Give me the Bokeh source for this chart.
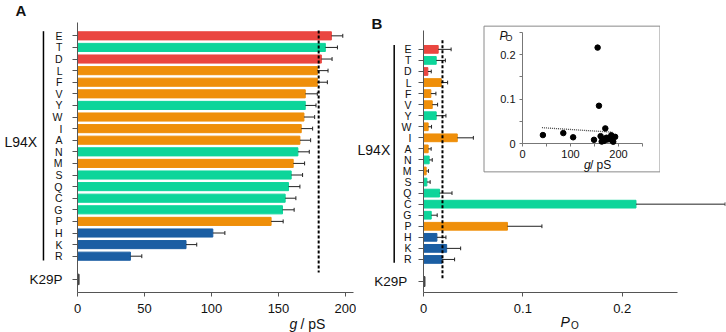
from bokeh.plotting import figure
from bokeh.models import Range1d, FixedTicker, ColumnDataSource
from bokeh.core.properties import value
from bokeh.layouts import row
from bokeh.embed import file_html
from bokeh.resources import INLINE

# ---------------- data ----------------
mutants = ["E", "T", "D", "L", "F", "V", "Y", "W", "I", "A",
           "N", "M", "S", "Q", "C", "G", "P", "H", "K", "R"]
residue_class = ["acidic", "polar", "acidic", "hydrophobic", "hydrophobic",
                 "hydrophobic", "polar", "hydrophobic", "hydrophobic", "hydrophobic",
                 "polar", "hydrophobic", "polar", "polar", "polar",
                 "polar", "hydrophobic", "basic", "basic", "basic"]
g_mean = [189.5, 185, 182, 179, 179, 170, 170, 169, 167, 166,
          164.5, 161, 159.5, 157.5, 155, 153, 144.5, 101, 81, 39.5]
g_err = [8.5, 9, 8, 8, 7.5, 9, 8, 8, 8.5, 8,
         8.5, 8.5, 8.5, 8.5, 8, 8.7, 9, 9, 8, 8.5]
po_mean = [0.0148, 0.0128, 0.0044, 0.0179, 0.0074, 0.0088, 0.0128, 0.0047, 0.034, 0.0047,
           0.0057, 0.0027, 0.0034, 0.0162, 0.2139, 0.0078, 0.0845, 0.0135, 0.0233, 0.0186]
po_err = [0.013, 0.0092, 0.0034, 0.0064, 0.0051, 0.0054, 0.0098, 0.0034, 0.0162, 0.003,
          0.0031, 0.0023, 0.0033, 0.0125, 0.0898, 0.006, 0.0347, 0.0091, 0.0141, 0.0127]
wt_label = "K29P"
wt_g = 1.2
wt_po = 0.0015
g_ref = 180
po_ref = 0.0191

inset_g = [42.5, 85, 105.5, 149, 156.5, 159.3, 172.5, 162.7, 165, 167,
           170, 173, 175, 177, 185, 193, 186.5, 189, 180, 168]
inset_po = [0.019, 0.0235, 0.014, 0.0083, 0.216, 0.085, 0.034, 0.0166, 0.0044, 0.0057,
            0.006, 0.011, 0.013, 0.009, 0.0185, 0.015, 0.007, 0.004, 0.012, 0.009]
fit_g = [40.5, 187]
fit_po = [0.0357, 0.0255]

g_ticks = [0, 50, 100, 150, 200]
po_ticks = [0, 0.1, 0.2]
po_tick_labels = ["0", "0.1", "0.2"]
inset_g_ticks = [0, 50, 100, 150, 200, 250]
inset_g_labels = ["0", "", "100", "", "200", ""]
inset_po_ticks = [0, 0.05, 0.1, 0.15, 0.2, 0.25]
inset_po_labels = ["0", "", "0.1", "", "0.2", ""]

# ---------------- styles ----------------
palette = {"acidic": "#EA4640", "polar": "#0DD59A",
           "hydrophobic": "#EF8F0A", "basic": "#1B5EA3"}
FONT = "Liberation Sans"
AX = "#555555"
TXT = "#111111"

pos = list(range(len(mutants)))
wt_pos = len(mutants) + 1
cap = 0.17
src = ColumnDataSource(dict(
    y=pos, g=g_mean, g_hi=[m + e for m, e in zip(g_mean, g_err)],
    po=po_mean, po_hi=[m + e for m, e in zip(po_mean, po_err)],
    color=[palette[c] for c in residue_class],
    c0=[p - cap for p in pos], c1=[p + cap for p in pos]))


def style(p, fs="13px"):
    p.outline_line_color = None
    p.xgrid.grid_line_color = None
    p.ygrid.grid_line_color = None
    p.background_fill_color = "white"
    p.border_fill_color = "white"
    for ax in (p.xaxis, p.yaxis):
        ax.axis_line_color = AX
        ax.major_tick_line_color = AX
        ax.minor_tick_line_color = None
        ax.major_tick_in = 0
        ax.major_label_text_font = FONT
        ax.major_label_text_color = TXT
        ax.major_label_text_font_size = fs


def lab(p, x, y, text, size, align="left", style_="normal"):
    p.text(x=[x], y=[y], text=[text], text_font=value(FONT), text_font_size=size,
           text_align=align, text_baseline="middle", text_color=TXT,
           text_font_style=style_, level="overlay")


# ---------------- panel A ----------------
pA = figure(width=356, height=332, x_range=Range1d(0, 206), y_range=Range1d(22.13, -1.15),
            output_backend="svg", toolbar_location=None,
            min_border_left=77, min_border_right=3, min_border_top=22, min_border_bottom=40)
style(pA)
pA.hbar(y="y", left=0, right="g", height=0.7, color="color", source=src)
pA.segment(x0="g", y0="y", x1="g_hi", y1="y", line_color="#222222", line_width=1, source=src)
pA.segment(x0="g_hi", y0="c0", x1="g_hi", y1="c1", line_color="#222222", line_width=1, source=src)
pA.hbar(y=[wt_pos], left=0, right=[wt_g], height=0.9, color="#444444")
pA.line([g_ref, g_ref], [-0.46, 20.4], line_color="black", line_width=2, line_dash="3 2")
pA.xaxis.ticker = FixedTicker(ticks=g_ticks)
pA.xaxis.major_tick_out = 4
pA.xaxis.major_label_standoff = 7
pA.yaxis.ticker = FixedTicker(ticks=pos + [wt_pos])
pA.yaxis.major_label_overrides = {**{i: m for i, m in enumerate(mutants)}, wt_pos: ""}
pA.yaxis.major_tick_out = 5
pA.yaxis.major_label_standoff = 10
pA.yaxis.major_label_text_font_size = "10.5px"
pA.line([-25.4, -25.4], [-0.4, 19.37], line_color="black", line_width=1.5, level="overlay")
lab(pA, -46.3, -2.22, "A", "15px", style_="bold")
lab(pA, -54.5, 9.15, "L94X", "14px")
lab(pA, -11.2, wt_pos, wt_label, "13.5px", align="right")
lab(pA, 158.2, 24.83, "g", "14px", style_="italic")
lab(pA, 166.4, 24.83, "/ pS", "14px")

# ---------------- panel B ----------------
pB = figure(width=370, height=332, x_range=Range1d(0, 0.304), y_range=Range1d(21.99, -2.43),
            output_backend="svg", toolbar_location=None,
            min_border_left=67, min_border_right=1, min_border_top=8, min_border_bottom=40)
style(pB)
pB.hbar(y="y", left=0, right="po", height=0.7, color="color", source=src)
pB.segment(x0="po", y0="y", x1="po_hi", y1="y", line_color="#222222", line_width=1, source=src)
pB.segment(x0="po_hi", y0="c0", x1="po_hi", y1="c1", line_color="#222222", line_width=1, source=src)
pB.hbar(y=[wt_pos], left=0, right=[wt_po], height=0.9, color="#444444")
pB.line([po_ref, po_ref], [-0.83, 20.8], line_color="black", line_width=2, line_dash="3 2")
pB.xaxis.bounds = (0, 0.2557)
pB.yaxis.bounds = (-1.69, 21.99)
pB.xaxis.ticker = FixedTicker(ticks=po_ticks)
pB.xaxis.major_label_overrides = dict(zip(po_ticks, po_tick_labels))
pB.xaxis.major_tick_out = 4
pB.xaxis.major_label_standoff = 7
pB.yaxis.ticker = FixedTicker(ticks=pos + [wt_pos])
pB.yaxis.major_label_overrides = {**{i: m for i, m in enumerate(mutants)}, wt_pos: ""}
pB.yaxis.major_tick_out = 5
pB.yaxis.major_label_standoff = 7
pB.yaxis.major_label_text_font_size = "10.5px"
pB.line([-0.0295, -0.0295], [-0.4, 19.3], line_color="black", line_width=1.5, level="overlay")
lab(pB, -0.0523, -2.37, "B", "15px", style_="bold")
lab(pB, -0.0664, 9.09, "L94X", "14px")
lab(pB, -0.0164, wt_pos, wt_label, "13.5px", align="right")
lab(pB, 0.1379, 24.7, "P", "14px", style_="italic")
lab(pB, 0.1485, 24.95, "O", "10px")

# ---------------- inset ----------------
pI = figure(width=177, height=173, x_range=Range1d(0, 250), y_range=Range1d(0, 0.25),
            output_backend="svg", toolbar_location=None,
            min_border_left=39, min_border_right=18, min_border_top=8, min_border_bottom=34,
            styles={"position": "absolute", "left": "483px", "top": "10px"})
style(pI, fs="11px")
for ax in (pI.xaxis, pI.yaxis):
    ax.axis_line_color = "#777777"
    ax.major_tick_line_color = "#777777"
    ax.major_tick_out = 3
pI.xaxis.ticker = FixedTicker(ticks=inset_g_ticks)
pI.xaxis.major_label_overrides = dict(zip(inset_g_ticks, inset_g_labels))
pI.yaxis.ticker = FixedTicker(ticks=inset_po_ticks)
pI.yaxis.major_label_overrides = dict(zip(inset_po_ticks, inset_po_labels))
pI.xaxis.major_label_standoff = 3
pI.yaxis.major_label_standoff = 4
pI.line(fit_g, fit_po, line_color="#444444", line_width=1.3, line_dash="1 1")
pI.scatter(inset_g, inset_po, size=5.5, color="black", level="overlay")
# frame of the inset box (whole inset canvas, half a pixel inside)
pI.quad(left=[-80.2], right=[286.5], bottom=[-0.0639], top=[0.2643],
        fill_color=None, line_color="#8a8a8a", line_width=1, level="overlay")
lab(pI, -47.9, 0.241, "P", "12px", style_="italic")
lab(pI, -35.6, 0.2375, "O", "9px")
lab(pI, 128.3, -0.0484, "g", "12px", style_="italic")
lab(pI, 140.5, -0.0484, "/ pS", "12px")

layout = row(pA, pB, pI)
open("out.html", "w").write(file_html(layout, INLINE))
